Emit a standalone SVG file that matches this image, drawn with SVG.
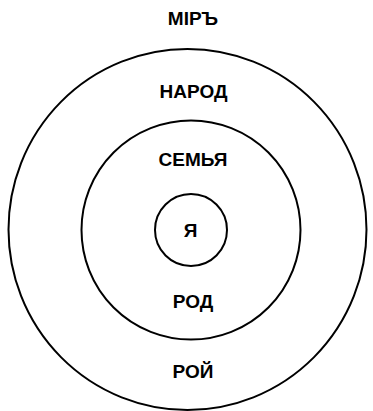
<svg xmlns="http://www.w3.org/2000/svg" width="373" height="411" viewBox="0 0 373 411">
<style>
.c{fill:none;stroke:#000;stroke-width:2}
.t{font-family:"Liberation Sans",Arial,sans-serif;font-weight:bold;font-size:19px;text-anchor:middle;fill:#000}
</style>
<rect width="373" height="411" fill="#fff"/>
<g id="mir"><text class="t" x="193" y="25">МІРЪ</text></g>
<g id="roi"><ellipse class="c" cx="187.5" cy="229.5" rx="179" ry="180.5"/><text class="t" x="193" y="378">РОЙ</text></g>
<g id="narod"><text class="t" x="193.5" y="98">НАРОД</text></g>
<g id="rod"><circle class="c" cx="191" cy="230" r="109.5"/><text class="t" x="193" y="308">РОД</text></g>
<g id="semya"><text class="t" x="193" y="166">СЕМЬЯ</text></g>
<g id="ya"><circle class="c" cx="191" cy="230" r="36"/><text class="t" x="190.5" y="237">Я</text></g>
<g id="connectors"></g>
</svg>
